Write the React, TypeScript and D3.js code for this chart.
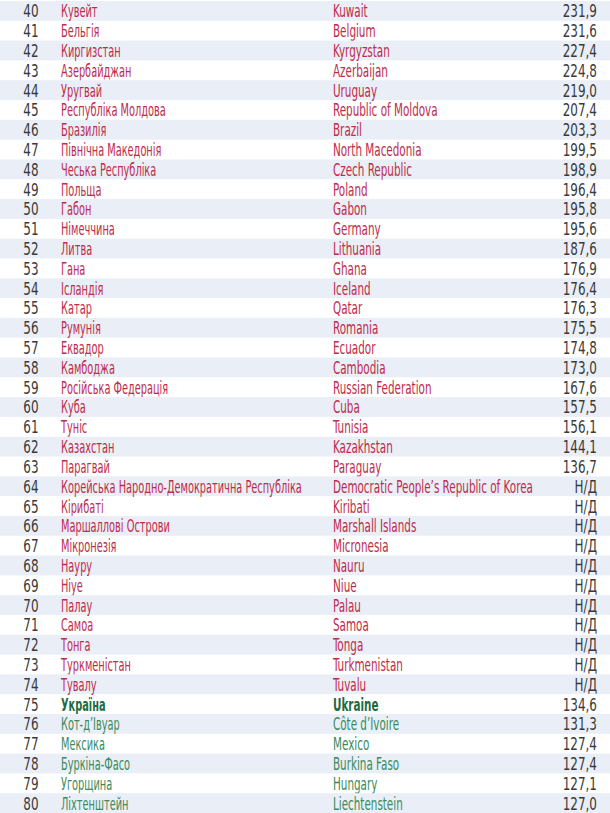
import React from 'react';
import * as d3 from 'd3';

// ranks shown in the table
const ranks = d3.range(40, 81);

const namesUk = [
  'Кувейт', 'Бельгія', 'Киргизстан', 'Азербайджан', 'Уругвай', 'Республіка Молдова', 'Бразилія',
  'Північна Македонія', 'Чеська Республіка', 'Польща', 'Габон', 'Німеччина', 'Литва', 'Гана',
  'Ісландія', 'Катар', 'Румунія', 'Еквадор', 'Камбоджа', 'Російська Федерація', 'Куба', 'Туніс',
  'Казахстан', 'Парагвай', 'Корейська Народно-Демократична Республіка', 'Кірибаті',
  'Маршаллові Острови', 'Мікронезія', 'Науру', 'Ніуе', 'Палау', 'Самоа', 'Тонга', 'Туркменістан',
  'Тувалу', 'Україна', 'Кот-д\u2019Івуар', 'Мексика', 'Буркіна-Фасо', 'Угорщина', 'Ліхтенштейн',
];

const namesEn = [
  'Kuwait', 'Belgium', 'Kyrgyzstan', 'Azerbaijan', 'Uruguay', 'Republic of Moldova', 'Brazil',
  'North Macedonia', 'Czech Republic', 'Poland', 'Gabon', 'Germany', 'Lithuania', 'Ghana',
  'Iceland', 'Qatar', 'Romania', 'Ecuador', 'Cambodia', 'Russian Federation', 'Cuba', 'Tunisia',
  'Kazakhstan', 'Paraguay', 'Democratic People\u2019s Republic of Korea', 'Kiribati',
  'Marshall Islands', 'Micronesia', 'Nauru', 'Niue', 'Palau', 'Samoa', 'Tonga', 'Turkmenistan',
  'Tuvalu', 'Ukraine', 'Côte d\u2019Ivoire', 'Mexico', 'Burkina Faso', 'Hungary', 'Liechtenstein',
];

// null = no data (Н/Д)
const values: (number | null)[] = [
  231.9, 231.6, 227.4, 224.8, 219.0, 207.4, 203.3, 199.5, 198.9, 196.4, 195.8, 195.6, 187.6,
  176.9, 176.4, 176.3, 175.5, 174.8, 173.0, 167.6, 157.5, 156.1, 144.1, 136.7,
  null, null, null, null, null, null, null, null, null, null, null,
  134.6, 131.3, 127.4, 127.4, 127.1, 127.0,
];

const highlightRank = 75;

const W = 610;
const H = 813;
const FONT = '"DejaVu Sans Condensed", "DejaVu Sans", sans-serif';

// horizontal squeeze so the text is as narrow as the reference's condensed face
const squeeze = (x: number, k: number) => `translate(${x},0) scale(${k},1) translate(${-x},0)`;

export default function App() {
  const y = d3.scaleBand<number>().domain(ranks).range([1, H]).padding(0);
  const rowH = y.bandwidth();
  const fmt = (v: number | null) => (v == null ? 'Н/Д' : d3.format('.1f')(v).replace('.', ','));

  const nameColor = (r: number) => {
    if (r === highlightRank) return '#1d6b3e';
    if (r > highlightRank) return '#3a8a5c';
    return '#c02b4a';
  };

  return (
    <svg width={W} height={H} style={{ position: 'absolute', left: 0, top: 0, background: '#fff' }}
      fontFamily={FONT}>
      {ranks.map((r, i) => {
        const top = y(r) as number;
        const base = top + rowH / 2 + 6.5;
        const bold = r === highlightRank;
        return (
          <g key={r}>
            {r % 2 === 0 && <rect x={0} y={top} width={W} height={rowH} fill="#e9eef7" />}
            <text x={31} y={base} textAnchor="middle" fontSize={18} fill="#3a3a3a"
              transform={squeeze(31, 0.74)}>{r}</text>
            <text x={61} y={base} fontSize={17} fill={nameColor(r)} fontWeight={bold ? 'bold' : 'normal'}
              transform={squeeze(61, 0.64)}>{namesUk[i]}</text>
            <text x={333} y={base} fontSize={17} fill={nameColor(r)} fontWeight={bold ? 'bold' : 'normal'}
              transform={squeeze(333, 0.68)}>{namesEn[i]}</text>
            <text x={597} y={base} textAnchor="end" fontSize={18} fill="#3a3a3a"
              transform={squeeze(597, 0.74)}>{fmt(values[i])}</text>
          </g>
        );
      })}
    </svg>
  );
}
